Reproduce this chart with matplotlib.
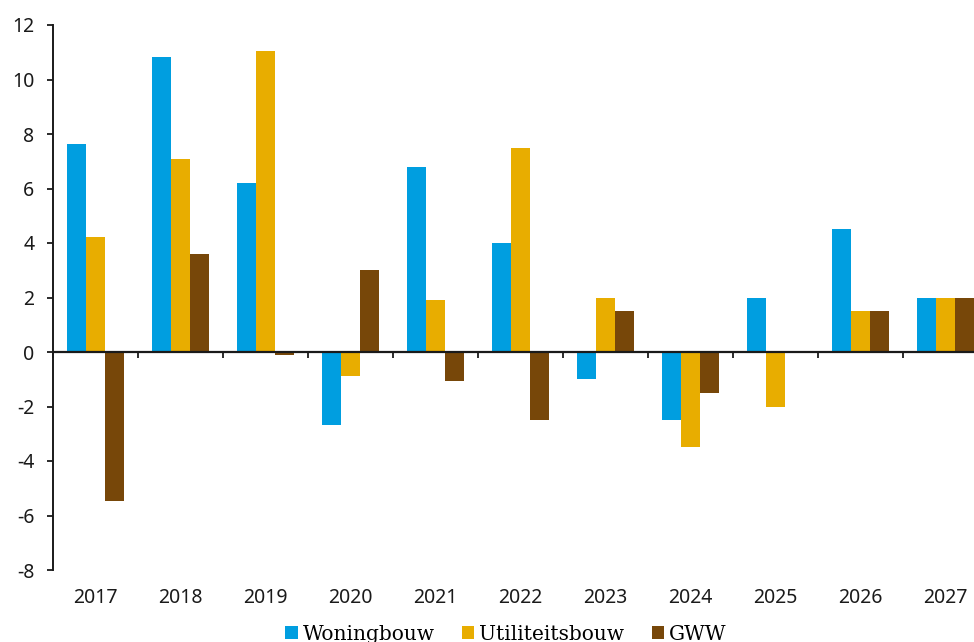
import numpy as np
import matplotlib
matplotlib.use("Agg")
import matplotlib.pyplot as plt

years = ["2017", "2018", "2019", "2020", "2021", "2022", "2023", "2024", "2025", "2026", "2027"]
woningbouw = [7.63, 10.83, 6.19, -2.68, 6.79, 3.99, -1.0, -2.5, 2.0, 4.5, 2.0]
utiliteitsbouw = [4.22, 7.09, 11.06, -0.87, 1.9, 7.5, 2.0, -3.5, -2.0, 1.5, 2.0]
gww = [-5.46, 3.61, -0.12, 3.01, -1.06, -2.5, 1.5, -1.5, 0.0, 1.5, 2.0]
series_names = ["Woningbouw", "Utiliteitsbouw", "GWW"]
colors = ["#009EE0", "#E8AD00", "#774709"]
y_ticks = [-8, -6, -4, -2, 0, 2, 4, 6, 8, 10, 12]

W, H = 974, 642
fig = plt.figure(figsize=(W / 100, H / 100), dpi=100)
ax = fig.add_axes([53 / W, 72 / H, 935 / W, 545 / H])

x = np.arange(len(years))
bw = 0.224
for i, (vals, name, col) in enumerate(zip([woningbouw, utiliteitsbouw, gww], series_names, colors)):
    ax.bar(x + (i - 1) * bw, vals, width=bw, color=col, label=name, zorder=2)

ax.set_xlim(-0.5, len(years) - 0.5)
ax.set_ylim(-8, 12)
ax.set_yticks(y_ticks)
ax.set_yticklabels([str(t) for t in y_ticks])

tick_font = dict(family="Noto Sans", size=14, color="#1a1a1a")
for lab in ax.get_yticklabels():
    lab.set_fontfamily("Noto Sans")
ax.tick_params(axis="y", direction="out", length=4.5, width=1.3, pad=9,
               labelsize=14, colors="#1a1a1a")
ax.set_xticks(x)
ax.set_xticklabels(years, fontfamily="Noto Sans")
ax.tick_params(axis="x", length=0, pad=13, labelsize=14, colors="#1a1a1a")
for lab in ax.get_yticklabels():
    lab.set_fontfamily("Noto Sans")

for s in ["top", "right", "bottom"]:
    ax.spines[s].set_visible(False)
ax.spines["left"].set_linewidth(1.4)
ax.spines["left"].set_color("#1a1a1a")

# zero line with group separator ticks
ax.axhline(0, color="#1a1a1a", lw=1.6, zorder=3)
sec = ax.secondary_xaxis(8 / 20)
sec.set_xticks(np.arange(-0.5, len(years), 1.0))
sec.set_xticklabels([])
sec.tick_params(axis="x", direction="out", length=4.5, width=1.3, colors="#1a1a1a")
sec.spines["bottom"].set_visible(False)

fig.legend(loc="center", bbox_to_anchor=(506 / W, 1 - 634 / H), ncol=3, frameon=False,
           handlelength=0.62, handleheight=0.62, handletextpad=0.25, columnspacing=1.35,
           prop=dict(family="DejaVu Serif", size=14.5))

fig.savefig("out.png", dpi=100)
